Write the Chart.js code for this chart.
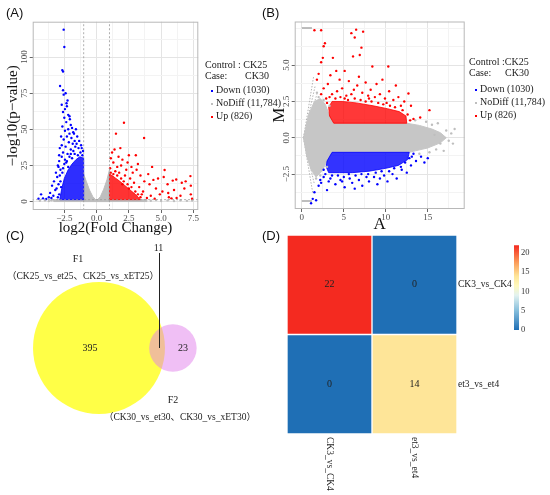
<!DOCTYPE html>
<html>
<head>
<meta charset="utf-8">
<script src="https://cdn.jsdelivr.net/npm/chart.js@4.4.0/dist/chart.umd.min.js"></script>
<style>
  body { margin: 0; background: #fff; width: 550px; height: 495px; position: relative; overflow: hidden; }
  canvas { position: absolute; }
  .t { position: absolute; white-space: nowrap; font-family: "Liberation Serif", serif; font-size: 10px; line-height: 12px; color: #222; }
  .tag { position: absolute; font-family: "Liberation Sans", Arial, sans-serif; font-size: 13px; line-height: 15px; color: #111; }
  .dot { display: inline-block; width: 2px; height: 2px; margin-right: 3px; vertical-align: middle; }
</style>
</head>
<body>
<canvas id="cA" width="275" height="240" style="left:0;top:0"></canvas>
<canvas id="cB" width="288" height="240" style="left:262px;top:0"></canvas>
<canvas id="cC" width="275" height="255" style="left:0;top:240px"></canvas>
<canvas id="cD" width="275" height="270" style="left:275px;top:225px"></canvas>
<canvas id="cK" width="60" height="110" style="left:490px;top:235px"></canvas>

<script>
var SERIF = '"Liberation Serif", serif';

// ---- (A) volcano: x = log2 fold change, y = -log10(p) ----
var volXTicks = [-2.5, 0, 2.5, 5, 7.5];
var volYTicks = [0, 25, 50, 75, 100];
var foldCut = 1;
var pCut = 1.3;
var volNsShape = [[-1,0],[-1,19],[-0.8,14],[-0.55,8],[-0.3,3.5],[0,0.5],[0.3,3.5],[0.55,8.5],[0.8,15],[1,22],[1,0]];
var volNsBand = [[-3.3,0],[3.9,0],[3.9,1.3],[-3.3,1.3]];
var volNsPoints = [[-4.4,0.5],[-4.0,0.8],[-3.7,0.3],[-3.5,0.9],[4.2,0.6],[4.6,1.0],[5.0,0.4],[5.5,0.8],[6.0,0.3],[6.5,0.9],[7.0,0.5],[7.4,0.7]];
var volDownShape = [[-1,1.3],[-1,30],[-1.3,31],[-1.6,29],[-1.9,26],[-2.2,22],[-2.5,16],[-2.7,9],[-2.85,1.3]];
var volDownPoints = [[-2.55,119],[-2.5,107],[-2.66,91],[-2.6,90],[-2.83,80],[-2.6,77],[-2.55,74],[-2.4,75],[-2.25,70],[-2.33,68],[-2.7,67],[-2.3,66],
  [-2.45,64],[-2.6,62],[-2.2,60],[-2.1,59],[-2.5,58],[-2.07,57],[-2.35,55],[-2.0,53],[-2.65,52],[-1.9,51],[-2.2,50],[-1.6,50],[-2.45,49],
  [-1.81,48],[-1.75,47],[-2.1,47],[-2.3,45],[-2.75,45],[-1.5,45],[-1.95,44],[-2.55,43],[-1.7,42],[-1.35,42],[-2.15,41],[-1.85,40],[-1.55,40],
  [-2.7,39],[-1.2,39],[-2.4,38],[-1.65,38],[-2.85,37],[-1.4,37],[-1.15,37],[-2.0,36],[-1.8,35],[-1.05,35],[-2.6,34],[-1.25,34],[-2.25,33],
  [-2.0,33],[-1.7,33],[-2.9,32],[-1.1,32],[-1.45,32],[-2.7,31],[-2.1,31],[-1.9,30],[-2.45,29],[-2.9,28],[-2.3,28],[-2.5,26],[-3.0,25],
  [-2.95,24],[-2.2,24],[-2.8,22],[-2.65,20],[-3.15,20],[-2.85,18],[-3.05,17],[-3.3,14],[-2.8,14],[-3.45,11],[-2.75,10],[-3.1,9],[-3.2,8],
  [-3.6,6],[-2.9,5],[-4.3,5],[-3.35,4],[-3.7,3],[-3.0,3],[-3.5,2.5],[-4.15,2.2],[-4.5,2],[-3.9,1.8],[-2.95,12],[-2.6,23],[-2.35,27]];
var volUpShape = [[1,1.3],[1,19],[1.2,18],[1.5,16],[1.8,14],[2.2,11],[2.6,8],[3.0,5],[3.4,1.3]];
var volUpPoints = [[2.12,54.5],[1.5,47],[3.68,44],[1.2,34],[1.39,36],[1.84,37],[3.04,32],[2.5,32],[1.7,31],[1.1,30],[2.0,29],[2.4,27],
  [1.3,27],[3.2,26],[1.9,25],[2.7,24],[1.6,24],[4.3,24],[1.05,23],[3.1,22],[2.3,22],[5.27,21.8],[1.45,21],[1.1,20],[2.8,20],[1.75,20],
  [1.3,19],[4.0,19],[3.4,18],[2.2,18],[1.6,18],[7.27,17.6],[5.2,17],[2.6,16],[4.76,16],[1.9,16],[6.17,15.3],[4.4,15],[5.9,14.5],[3.7,14],
  [6.9,14],[2.1,14],[2.9,13],[6.6,13],[4.1,12],[5.5,12],[2.4,12],[2.0,12],[7.3,11],[2.7,10],[3.3,10],[4.6,9],[2.5,9],[6.8,9],[6.0,8],
  [3.6,7],[3.0,7],[5.1,7],[5.55,5.9],[4.9,5],[7.3,5],[3.5,5],[3.2,5],[4.2,4],[6.5,4],[3.4,3],[5.6,3],[3.9,2.5],[6.2,2.5],[5.8,2.2],
  [4.5,2],[7.4,2]];

// ---- (B) MA plot: x = A, y = M ----
var maXTicks = [0, 5, 10, 15];
var maYTicks = [-2.5, 0, 2.5, 5];
var maNsShape = [[0.2,0],[0.8,1.6],[1.5,2.5],[2.2,2.7],[2.8,2.3],[3.3,1.5],[3.8,1.0],[12.5,1.0],[14,0.85],[15.5,0.6],[16.5,0.35],[17.2,0],
  [16.5,-0.35],[15,-0.7],[13.5,-0.9],[12.8,-1.0],[3.6,-1.0],[3.0,-1.6],[2.4,-2.3],[1.7,-2.7],[1.1,-2.2],[0.6,-1.3]];
var maNsPoints = [[15.8,0.2],[16.5,-0.4],[17.2,0.5],[17.8,0.3],[18.2,0.6],[16.9,-0.9],[15.5,0.9],[14.8,1.1],[16.0,-0.8],[17.5,-0.2],
  [13.5,1.2],[14,-1.1],[2,2.8],[1.8,3.1],[2.6,2.6],[3.3,2.2],[3.0,-2.0],[2.2,-2.6],[1.7,-2.8],[18.0,-0.4],[16.2,1.0],[15.2,-1.0]];
var maRayStart = [0.2, 0];
var maRayEnds = [[1.4,4.2],[1.6,3.6],[1.8,3.0],[2.0,2.5],[2.3,2.0],[2.6,1.6],[1.3,-3.8],[1.5,-3.2],[1.7,-2.7],[1.9,-2.2],[2.2,-1.8],[2.5,-1.4]];
var maCapTop = [[0,7.55],[1.2,7.55]];
var maCapBottom = [[0,-4.35],[1.2,-4.35]];
var maUpShape = [[3.3,1.5],[3.8,1.0],[12.5,1.0],[12.4,1.5],[11.6,1.8],[10.2,2.0],[8.5,2.2],[6.5,2.4],[4.8,2.5],[3.6,2.5],[3.2,2.1]];
var maUpPoints = [[1.5,7.4],[2.3,7.4],[6.47,7.44],[5.9,7.2],[7.3,7.3],[6.3,6.9],[2.75,6.5],[2.6,6.3],[7.1,6.2],[2.3,5.2],[2.5,5.5],[3.7,5.5],
  [6.1,5.6],[6.9,5.7],[10.3,4.9],[8.4,4.9],[4.1,4.6],[5.1,4.6],[2.0,4.4],[1.8,4.0],[3.4,4.3],[12.7,3.05],[15.2,1.9],[4.5,4.0],[5.6,3.9],
  [6.8,4.2],[7.6,3.8],[8.9,3.7],[9.6,4.0],[11.2,3.6],[3.1,3.7],[2.6,3.4],[4.8,3.4],[6.2,3.3],[7.2,3.1],[8.2,3.3],[9.3,3.0],[10.4,3.2],
  [11.5,2.8],[12.2,2.5],[2.3,3.0],[3.6,3.0],[5.3,2.9],[13.0,2.2],[12.6,1.6],[13.3,1.3],[2.9,2.7],[10.9,2.6],[9.9,2.7],[8.7,2.8],[7.9,2.9],
  [5.9,3.0],[6.6,3.6],[4.2,3.2],[11.8,2.2],[14.1,1.4],[3.3,2.8],[4.0,2.7],[4.6,2.8],[5.5,2.6],[6.3,2.7],[7.0,2.6],[7.6,2.5],[8.3,2.5],
  [9.1,2.4],[9.7,2.3],[10.5,2.2],[11.1,2.1],[12.0,1.9],[12.9,1.2],[3.0,2.4],[5.1,2.7],[8.0,2.7],[10.1,2.4]];
var maDownShape = [[3.6,-1.0],[12.8,-1.0],[12.6,-1.5],[11.5,-1.9],[10,-2.1],[8,-2.3],[6,-2.4],[4.5,-2.4],[3.2,-2.4],[2.9,-2.0],[3.0,-1.6]];
var maDownPoints = [[1.5,-3.75],[1.3,-4.2],[1.7,-4.3],[2.0,-3.3],[2.2,-2.9],[2.6,-2.7],[3.2,-3.0],[4.0,-3.2],[5.1,-3.4],[3.0,-3.6],[2.3,-3.1],
  [6.0,-3.1],[7.2,-3.3],[8.0,-3.0],[9.0,-3.2],[10.2,-3.0],[11.3,-2.8],[12.5,-2.4],[13.0,-1.9],[13.6,-1.6],[14.2,-1.3],[15.0,-1.4],[4.6,-2.9],
  [5.7,-2.8],[6.8,-2.9],[8.6,-2.7],[9.8,-2.6],[10.8,-2.5],[11.9,-2.2],[12.8,-1.4],[3.4,-2.8],[2.8,-2.5],[7.7,-2.7],[6.3,-3.5],[13.3,-1.1],
  [14.6,-1.7],[1.1,-4.5],[3.6,-2.6],[4.3,-2.6],[5.0,-2.7],[5.6,-2.5],[6.4,-2.6],[7.1,-2.5],[7.9,-2.5],[8.8,-2.4],[9.5,-2.3],[10.4,-2.3],
  [11.0,-2.1],[11.8,-2.0],[12.3,-1.7],[13.1,-1.3],[2.6,-2.2],[4.8,-3.0],[9.3,-2.8]];

// legend
var ctrlName = 'CK25';
var caseName = 'CK30';
var groupNames = ['Down', 'NoDiff', 'Up'];
var groupCounts = ['1030', '11,784', '826'];

// ---- (C) Venn ----
var vennSets = ['F1', 'F2'];
var vennGroups = ['（CK25_vs_et25、CK25_vs_xET25）', '（CK30_vs_et30、CK30_vs_xET30）'];
var vennOnly = [395, 23];
var vennShared = 11;
var vennX = [0, 1.12];
var vennRadius = [1, 0.36];

// ---- (D) heatmap ----
var colLabels = ['CK3_vs_CK4', 'et3_vs_et4'];
var rowLabels = ['CK3_vs_CK4', 'et3_vs_et4'];
var cellValues = [[22, 0], [0, 14]];
var colorMax = 22;
var colorTicks = [0, 5, 10, 15, 20];

var groupColors = ['#0000ff', '#bebebe', '#ff0000'];
var heatStops = [[0,'#1f6fb5'],[5,'#85bedc'],[9,'#e2f2f0'],[11.5,'#fff9bd'],[14,'#fee598'],[17.5,'#fb9d5a'],[22,'#f42a20']];

function toXY(a) { return a.map(function(p) { return {x: p[0], y: p[1]}; }); }
function isIn(v, list) { return list.some(function(t) { return Math.abs(t - v) < 1e-6; }); }
function minus(s) { return s.replace('-', '\u2212'); }

function shapeSet(arr, color, order) {
  return { type: 'line', data: toXY(arr.concat([arr[0]])), fill: 'shape', backgroundColor: color,
    borderColor: color, borderWidth: 1, pointRadius: 0, tension: 0, order: order };
}
function dotSet(arr, color, order) {
  return { type: 'scatter', data: toXY(arr), backgroundColor: color, borderWidth: 0, pointRadius: 1.2, order: order };
}
function lineSet(arr, color, width, dash, order) {
  return { type: 'line', data: toXY(arr), fill: false, borderColor: color, borderWidth: width,
    borderDash: dash, pointRadius: 0, tension: 0, order: order };
}

var framePlugin = {
  id: 'frame',
  afterDatasetsDraw: function(chart) {
    var a = chart.chartArea, c = chart.ctx;
    c.save();
    c.strokeStyle = '#b8b8b8';
    c.lineWidth = 1;
    c.strokeRect(a.left + 0.5, a.top + 0.5, a.right - a.left - 1, a.bottom - a.top - 1);
    c.restore();
  }
};

// rotated y tick labels, centred on their ticks
function yLabels(list, fmt) {
  return {
    id: 'yLabels',
    afterDraw: function(chart) {
      var s = chart.scales.y, c = chart.ctx;
      c.save();
      c.fillStyle = '#4d4d4d';
      c.font = '9px ' + SERIF;
      c.textAlign = 'center';
      c.textBaseline = 'middle';
      list.forEach(function(v) {
        c.save();
        c.translate(chart.chartArea.left - 8, s.getPixelForValue(v));
        c.rotate(-Math.PI / 2);
        c.fillText(fmt(v), 0, 0);
        c.restore();
      });
      c.restore();
    }
  };
}

function gridOpts(list) {
  return {
    color: function(ctx) { return isIn(ctx.tick.value, list) ? '#e4e4e4' : '#f3f3f3'; },
    tickColor: function(ctx) { return isIn(ctx.tick.value, list) ? '#666' : 'rgba(0,0,0,0)'; },
    tickLength: 3,
    lineWidth: 1
  };
}

function plotOptions(o) {
  return {
    responsive: false,
    animation: false,
    events: [],
    layout: { autoPadding: false, padding: { left: 0, top: o.top, right: o.right, bottom: 0 } },
    plugins: { legend: { display: false }, tooltip: { enabled: false } },
    scales: {
      x: {
        type: 'linear', min: o.xMin, max: o.xMax,
        border: { display: false },
        grid: gridOpts(o.xTicks),
        ticks: {
          stepSize: o.xStep, includeBounds: false, autoSkip: false, maxRotation: 0, padding: 0,
          color: '#4d4d4d', font: { family: SERIF, size: 9 },
          callback: function(v) { return isIn(v, o.xTicks) ? o.xFmt(v) : ''; }
        },
        title: { display: true, text: o.xTitle, color: '#111', font: { family: SERIF, size: o.titleSize },
          padding: { top: 0, bottom: o.xTitlePad } },
        afterFit: function(s) { s.height = o.xHeight; }
      },
      y: {
        type: 'linear', min: o.yMin, max: o.yMax,
        border: { display: false },
        grid: gridOpts(o.yTicks),
        ticks: { stepSize: o.yStep, includeBounds: false, autoSkip: false, display: false },
        title: { display: true, text: o.yTitle, color: '#111', font: { family: SERIF, size: o.titleSize },
          padding: { top: o.yTitlePad, bottom: 0 } },
        afterFit: function(s) { s.width = 32.7; }
      }
    }
  };
}

// ---- (A) ----
new Chart(document.getElementById('cA'), {
  type: 'scatter',
  data: {
    datasets: [
      lineSet([[-foldCut, -6], [-foldCut, 127]], '#9a9a9a', 0.8, [2, 2], 0),
      lineSet([[foldCut, -6], [foldCut, 127]], '#9a9a9a', 0.8, [2, 2], 0),
      lineSet([[-5, pCut], [8, pCut]], '#9a9a9a', 0.8, [2, 2], 0),
      dotSet(volDownPoints, groupColors[0], 1),
      dotSet(volUpPoints, groupColors[2], 1),
      dotSet(volNsPoints, groupColors[1], 1),
      shapeSet(volDownShape, 'rgba(0,0,255,0.82)', 2),
      shapeSet(volUpShape, 'rgba(255,0,0,0.8)', 2),
      shapeSet(volNsShape, groupColors[1], 3),
      shapeSet(volNsBand, groupColors[1], 3)
    ]
  },
  options: plotOptions({
    top: 21.7, right: 76.7, xHeight: 30,
    xMin: -4.95, xMax: 7.88, xStep: 1.25, xTicks: volXTicks, xFmt: function(v) { return minus(v.toFixed(1)); },
    yMin: -5.85, yMax: 124.5, yStep: 12.5, yTicks: volYTicks,
    xTitle: 'log2(Fold Change)', yTitle: '\u2212log10(p\u2212value)', titleSize: 15, xTitlePad: 3, yTitlePad: 4
  }),
  plugins: [framePlugin, yLabels(volYTicks, function(v) { return String(v); })]
});

// ---- (B) ----
var maDatasets = [
  dotSet(maDownPoints, groupColors[0], 1),
  dotSet(maUpPoints, groupColors[2], 1),
  dotSet(maNsPoints, groupColors[1], 1),
  shapeSet(maDownShape, 'rgba(0,0,255,0.8)', 2),
  shapeSet(maUpShape, 'rgba(255,0,0,0.78)', 2),
  shapeSet(maNsShape, '#c6c6c6', 3),
  lineSet(maCapTop, '#a8a8a8', 1.5, [], 3),
  lineSet(maCapBottom, '#a8a8a8', 1.5, [], 3)
];
maRayEnds.forEach(function(e) {
  maDatasets.push(lineSet([maRayStart, e], '#b4b4b4', 1, [1.5, 1.5], 4));
});
new Chart(document.getElementById('cB'), {
  type: 'scatter',
  data: { datasets: maDatasets },
  options: plotOptions({
    top: 21.5, right: 85.3, xHeight: 31,
    xMin: -0.85, xMax: 19.4, xStep: 2.5, xTicks: maXTicks, xFmt: function(v) { return String(v); },
    yMin: -4.9, yMax: 8.0, yStep: 1.25, yTicks: maYTicks,
    xTitle: 'A', yTitle: 'M', titleSize: 17, xTitlePad: 5, yTitlePad: 7
  }),
  plugins: [framePlugin, yLabels(maYTicks, function(v) { return minus(v.toFixed(1)); })]
});

// ---- (C) Venn ----
var vennXRange = [-1.5, 2.667];
var vennYRange = [-2.227, 1.636];
var vennPxPerUnit = 275 / (vennXRange[1] - vennXRange[0]);
var vennText = {
  id: 'vennText',
  afterDatasetsDraw: function(chart) {
    var c = chart.ctx, sx = chart.scales.x, sy = chart.scales.y;
    var p = vennX.map(function(x) { return [sx.getPixelForValue(x), sy.getPixelForValue(0)]; });
    var r = vennRadius.map(function(v) { return sx.getPixelForValue(v) - sx.getPixelForValue(0); });
    var f10 = '10px "Liberation Serif", "Noto Sans CJK SC", serif';
    var f95 = '9.5px "Liberation Serif", "Noto Sans CJK SC", serif';
    c.save();
    c.fillStyle = '#222';
    c.textAlign = 'center';
    c.textBaseline = 'middle';
    c.font = f10;
    c.fillText(String(vennOnly[0]), p[0][0] - 9, p[0][1]);
    c.fillText(String(vennOnly[1]), p[1][0] + 10, p[1][1]);
    c.fillText(vennSets[0], p[0][0] - 21, p[0][1] - 89);
    c.fillText(vennSets[1], p[1][0], p[1][1] + 52);
    c.font = f95;
    c.fillText(vennGroups[0], p[0][0] - 16, p[0][1] - 71);
    c.fillText(vennGroups[1], p[1][0] + 7, p[1][1] + 70);
    var lx = Math.round((p[1][0] - r[1] + p[0][0] + r[0]) / 2 + 2) + 0.5;
    c.strokeStyle = '#222';
    c.lineWidth = 1;
    c.beginPath();
    c.moveTo(lx, p[0][1]);
    c.lineTo(lx, p[0][1] - 95);
    c.stroke();
    c.font = f10;
    c.fillText(String(vennShared), lx - 1, p[0][1] - 100);
    c.restore();
  }
};
var vennColors = ['rgba(255,255,0,0.72)', 'rgba(225,127,235,0.5)'];
new Chart(document.getElementById('cC'), {
  type: 'bubble',
  data: {
    datasets: vennSets.map(function(name, i) {
      return {
        label: name,
        data: [{ x: vennX[i], y: 0, r: vennRadius[i] * vennPxPerUnit }],
        backgroundColor: vennColors[i],
        borderWidth: 0,
        order: vennSets.length - i,
        clip: false
      };
    })
  },
  options: {
    responsive: false, animation: false, events: [],
    layout: { autoPadding: false, padding: 0 },
    plugins: { legend: { display: false }, tooltip: { enabled: false } },
    scales: {
      x: { type: 'linear', display: false, min: vennXRange[0], max: vennXRange[1] },
      y: { type: 'linear', display: false, min: vennYRange[0], max: vennYRange[1] }
    }
  },
  plugins: [vennText]
});

// ---- (D) heatmap ----
function hexRgb(h) { return [parseInt(h.substr(1, 2), 16), parseInt(h.substr(3, 2), 16), parseInt(h.substr(5, 2), 16)]; }
function heatColor(v) {
  for (var i = 1; i < heatStops.length; i++) {
    if (v <= heatStops[i][0]) {
      var a = heatStops[i - 1], b = heatStops[i], f = (v - a[0]) / (b[0] - a[0]);
      var ca = hexRgb(a[1]), cb = hexRgb(b[1]);
      return 'rgb(' + ca.map(function(x, k) { return Math.round(x + (cb[k] - x) * f); }).join(',') + ')';
    }
  }
  return heatStops[heatStops.length - 1][1];
}

var heatText = {
  id: 'heatText',
  afterDatasetsDraw: function(chart) {
    var c = chart.ctx, a = chart.chartArea;
    c.save();
    c.fillStyle = '#222';
    c.font = '10px ' + SERIF;
    c.textAlign = 'center';
    c.textBaseline = 'middle';
    chart.data.datasets.forEach(function(ds, di) {
      chart.getDatasetMeta(di).data.forEach(function(el, i) {
        c.fillText(String(ds.data[i].v), el.x, (el.y + el.base) / 2);
      });
    });
    c.textAlign = 'left';
    c.font = '9.5px ' + SERIF;
    colLabels.forEach(function(lab, i) {
      c.save();
      c.translate(chart.scales.x.getPixelForValue(i), a.bottom + 3);
      c.rotate(Math.PI / 2);
      c.fillText(lab, 0, 0);
      c.restore();
    });
    c.restore();
  }
};

// stacked from the bottom row up
var heatSets = rowLabels.map(function(row, r) {
  return {
    label: row,
    data: colLabels.map(function(col, i) { return { x: col, y: 1, v: cellValues[r][i] }; }),
    backgroundColor: function(ctx) { return heatColor(ctx.raw.v); },
    borderColor: 'rgba(255,255,255,0.3)',
    borderWidth: 1,
    borderSkipped: false,
    barPercentage: 1,
    categoryPercentage: 1
  };
}).reverse();

new Chart(document.getElementById('cD'), {
  type: 'bar',
  data: { labels: colLabels, datasets: heatSets },
  options: {
    responsive: false, animation: false, events: [],
    layout: { autoPadding: false, padding: { left: 12, top: 10, right: 0, bottom: 61 } },
    plugins: { legend: { display: false }, tooltip: { enabled: false } },
    scales: {
      x: { display: false, stacked: true },
      y: { display: false, stacked: true, min: 0, max: rowLabels.length },
      yRow: {
        type: 'category', axis: 'y', position: 'right', labels: rowLabels, offset: true,
        grid: { display: false, drawTicks: false }, border: { display: false },
        ticks: { color: '#222', font: { family: SERIF, size: 9.5 }, padding: 1 },
        afterFit: function(s) { s.width = 93; }
      }
    }
  },
  plugins: [heatText]
});

// colour key
new Chart(document.getElementById('cK'), {
  type: 'bar',
  data: {
    labels: [''],
    datasets: [{
      data: [[0, colorMax]],
      barPercentage: 1, categoryPercentage: 1, borderWidth: 0,
      backgroundColor: function(ctx) {
        var ch = ctx.chart;
        if (!ch.chartArea) return '#ccc';
        var y = ch.scales.y;
        var g = ch.ctx.createLinearGradient(0, y.getPixelForValue(0), 0, y.getPixelForValue(colorMax));
        heatStops.forEach(function(s) { g.addColorStop(s[0] / colorMax, s[1]); });
        return g;
      }
    }]
  },
  options: {
    responsive: false, animation: false, events: [],
    layout: { autoPadding: false, padding: { left: 24, top: 10.3, right: 0, bottom: 15 } },
    plugins: { legend: { display: false }, tooltip: { enabled: false } },
    scales: {
      x: { display: false },
      y: {
        position: 'right', min: 0, max: colorMax,
        grid: { display: false, drawTicks: false }, border: { display: false },
        afterBuildTicks: function(s) { s.ticks = colorTicks.map(function(v) { return { value: v }; }); },
        ticks: { padding: 2, color: '#333', font: { family: SERIF, size: 8.5 } },
        afterFit: function(s) { s.width = 31; }
      }
    }
  }
});

// ---- text: panel tags and legends ----
function addText(html, left, cy, cls) {
  var d = document.createElement('div');
  d.className = cls || 't';
  d.innerHTML = html;
  d.style.left = left + 'px';
  d.style.top = (cy - (cls === 'tag' ? 7.5 : 6)) + 'px';
  document.body.appendChild(d);
}
addText('(A)', 6, 12, 'tag');
addText('(B)', 262, 12, 'tag');
addText('(C)', 6, 235, 'tag');
addText('(D)', 262, 235, 'tag');

function addLegend(x, ctrlText, caseX, ys) {
  addText(ctrlText, x, ys[0]);
  addText('Case:', x, ys[1]);
  addText(caseName, caseX, ys[1]);
  groupNames.forEach(function(g, i) {
    addText('<span class="dot" style="background:' + groupColors[i] + '"></span>' + g + ' (' + groupCounts[i] + ')',
      x + 6, ys[2 + i]);
  });
}
addLegend(205, 'Control : ' + ctrlName, 245, [65, 76, 90, 103, 116]);
addLegend(469, 'Control :' + ctrlName, 505, [62, 73, 89, 102, 115]);
</script>
</body>
</html>
